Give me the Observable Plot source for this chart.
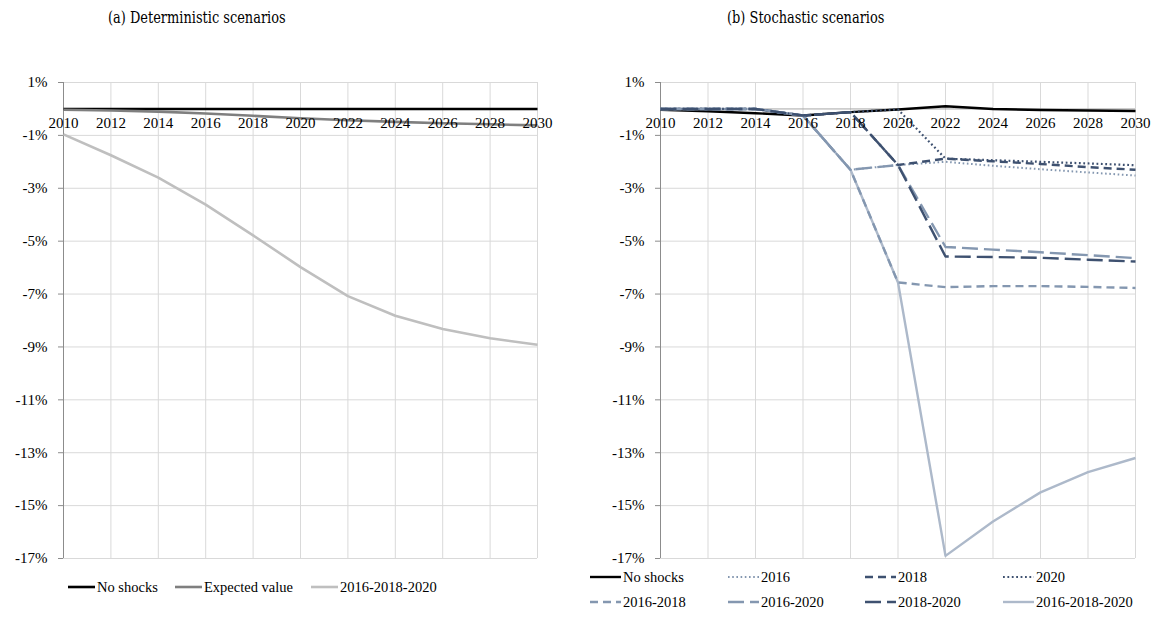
<!DOCTYPE html>
<html>
<head>
<meta charset="utf-8">
<script src="https://cdn.jsdelivr.net/npm/d3@7"></script>
<script src="https://cdn.jsdelivr.net/npm/@observablehq/plot@0.6"></script>
<style>
  body { margin: 0; background: #fff; }
  #wrap { position: relative; width: 1158px; height: 641px; overflow: hidden; font-family: "Liberation Serif", serif; }
  .title { position: absolute; top: 7px; font-family: "DejaVu Serif", serif; font-size: 17.5px; color: #000; white-space: nowrap; transform: scaleX(0.74); transform-origin: left center; }
  .chart { position: absolute; top: 40px; }
  .leg { position: absolute; display: flex; align-items: center; font-size: 14.5px; color: #000; white-space: nowrap; height: 20px; }
  .leg svg { display: block; margin-right: 2px; }
</style>
</head>
<body>
<div id="wrap"></div>
<script>
// ---- data ----
const years = [2010, 2012, 2014, 2016, 2018, 2020, 2022, 2024, 2026, 2028, 2030];
const yTicks = [1, -1, -3, -5, -7, -9, -11, -13, -15, -17];

// (a) Deterministic scenarios (% deviation)
const detNoShocks = [0, 0, 0, 0, 0, 0, 0, 0, 0, 0, 0];
const detExpected = [-0.03, -0.06, -0.1, -0.17, -0.26, -0.35, -0.43, -0.49, -0.54, -0.58, -0.62];
const det161820   = [-0.96, -1.75, -2.6, -3.62, -4.78, -5.98, -7.08, -7.82, -8.32, -8.67, -8.92];

// (b) Stochastic scenarios (% deviation)
const stNoShocks = [-0.03, -0.09, -0.16, -0.25, -0.12, -0.02, 0.1, 0.0, -0.04, -0.06, -0.08];
const st2016     = [0, 0, 0, -0.25, -2.3, -2.12, -2.0, -2.15, -2.28, -2.4, -2.52];
const st2018     = [0, 0, 0, -0.25, -0.12, -2.12, -1.88, -1.98, -2.08, -2.2, -2.3];
const st2020     = [0, 0, 0, -0.25, -0.12, -0.02, -1.88, -1.94, -2.0, -2.06, -2.13];
const st1618     = [0, 0, 0, -0.25, -2.3, -6.56, -6.74, -6.7, -6.7, -6.73, -6.77];
const st1620     = [0, 0, 0, -0.25, -2.3, -2.12, -5.22, -5.32, -5.42, -5.53, -5.64];
const st1820     = [0, 0, 0, -0.25, -0.12, -2.12, -5.58, -5.6, -5.63, -5.7, -5.77];
const st161820   = [0, 0, 0, -0.25, -2.3, -6.56, -16.9, -15.6, -14.5, -13.73, -13.2];

const detSeries = [
  {name: "No shocks", values: detNoShocks, color: "#000000", dash: null, width: 2.6},
  {name: "Expected value", values: detExpected, color: "#7f7f7f", dash: null, width: 2.6},
  {name: "2016-2018-2020", values: det161820, color: "#bfbfbf", dash: null, width: 2.6}
];
const DARK = "#3e5170", LIGHT = "#8497b0", PALE = "#adb9ca";
const stSeries = [
  {name: "No shocks", values: stNoShocks, color: "#000000", dash: null, width: 2.4},
  {name: "2016", values: st2016, color: LIGHT, dash: "1.6,2.6", width: 2},
  {name: "2018", values: st2018, color: DARK, dash: "8,5", width: 2.4},
  {name: "2020", values: st2020, color: DARK, dash: "1.8,2.6", width: 2.2},
  {name: "2016-2018", values: st1618, color: LIGHT, dash: "8,5", width: 2.4},
  {name: "2016-2020", values: st1620, color: LIGHT, dash: "16,6", width: 2.4},
  {name: "2018-2020", values: st1820, color: DARK, dash: "16,6", width: 2.4},
  {name: "2016-2018-2020", values: st161820, color: PALE, dash: null, width: 2.4}
];
// drawing order: pale solid under the dashed ones, black first
const stDrawOrder = [0, 7, 1, 2, 3, 4, 5, 6];

const fmt = d => `${d}%`;
const wrap = document.getElementById("wrap");

function makeChart(series, order, left, marginLeft, marginRight) {
  const lines = order.map(k => series[k]).map(s => Plot.line(years.map((x, i) => ({x, y: s.values[i]})), {
    x: "x", y: "y", stroke: s.color, strokeWidth: s.width,
    strokeDasharray: s.dash || undefined, strokeLinecap: "butt", strokeLinejoin: "round"
  }));
  const plot = Plot.plot({
    width: 579, height: 560,
    marginLeft, marginRight, marginTop: 42, marginBottom: 42,
    style: {fontFamily: "Liberation Serif, serif", fontSize: "15px", color: "#000", background: "transparent"},
    x: {domain: [2010, 2030], axis: null},
    y: {domain: [-17, 1], axis: null},
    marks: [
      Plot.gridX(years, {stroke: "#d9d9d9", strokeOpacity: 1, strokeWidth: 1}),
      Plot.gridY(yTicks, {stroke: "#d9d9d9", strokeOpacity: 1, strokeWidth: 1}),
      Plot.ruleY([0], {stroke: "#a6a6a6", strokeWidth: 1}),
      Plot.ruleX([2010], {stroke: "#8c8c8c", strokeWidth: 1}),
      Plot.axisY(yTicks, {tickFormat: fmt, tickSize: 5, tickPadding: 11, stroke: "#8c8c8c", fontSize: 15, label: null}),
      ...lines,
      Plot.text(years, {x: d => d, y: () => 0, dy: 14, text: d => String(d), fontSize: 15, fill: "#000"})
    ]
  });
  plot.classList.add("chart");
  plot.style.left = left + "px";
  wrap.appendChild(plot);
}

makeChart(detSeries, [0, 1, 2], 0, 63, 42);
makeChart(stSeries, stDrawOrder, 579, 81, 23);

function addTitle(text, left) {
  const d = document.createElement("div");
  d.className = "title"; d.textContent = text; d.style.left = left + "px";
  wrap.appendChild(d);
}
addTitle("(a) Deterministic scenarios", 108);
addTitle("(b) Stochastic scenarios", 727);

function addLegend(s, x, y, w) {
  const d = document.createElement("div");
  d.className = "leg"; d.style.left = x + "px"; d.style.top = (y - 10) + "px";
  const ns = "http://www.w3.org/2000/svg";
  const svg = document.createElementNS(ns, "svg");
  svg.setAttribute("width", w); svg.setAttribute("height", 10);
  const ln = document.createElementNS(ns, "line");
  ln.setAttribute("x1", 0); ln.setAttribute("x2", w); ln.setAttribute("y1", 5); ln.setAttribute("y2", 5);
  ln.setAttribute("stroke", s.color); ln.setAttribute("stroke-width", s.width);
  if (s.dash) ln.setAttribute("stroke-dasharray", s.dash);
  svg.appendChild(ln); d.appendChild(svg);
  const t = document.createElement("span"); t.textContent = s.name; d.appendChild(t);
  wrap.appendChild(d);
}
const detLegX = [68, 175, 311];
detSeries.forEach((s, i) => addLegend(s, detLegX[i], 587, 27));
const stLegX = [590, 728, 865, 1003];
stSeries.forEach((s, i) => addLegend(s, stLegX[i % 4], i < 4 ? 577 : 602, 31));
</script>
</body>
</html>
